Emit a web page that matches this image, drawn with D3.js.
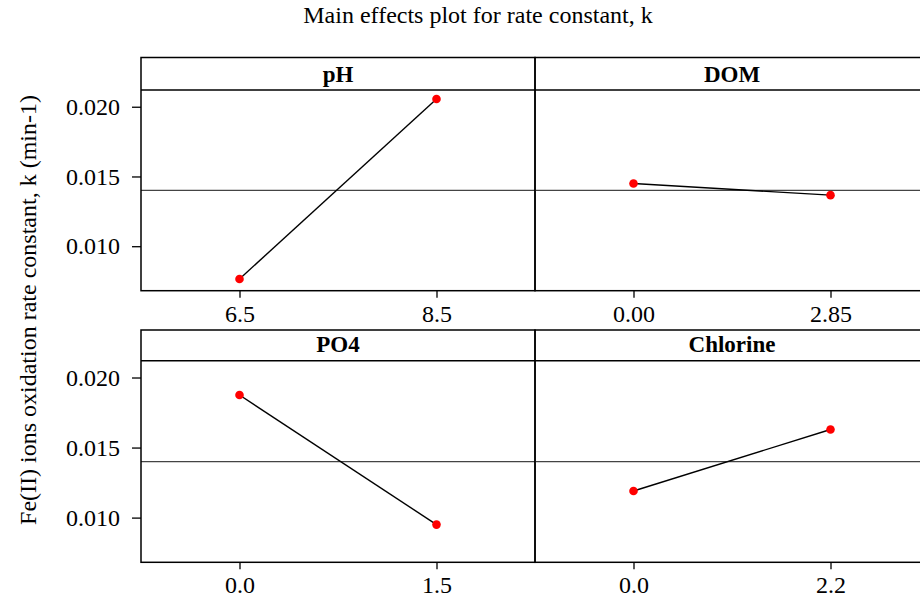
<!DOCTYPE html>
<html>
<head>
<meta charset="utf-8">
<script src="https://cdn.jsdelivr.net/npm/d3@7"></script>
<style>
  body { margin: 0; background: #fff; }
  svg { display: block; font-family: "Liberation Serif", "Times New Roman", serif; }
</style>
</head>
<body>
<div id="visualization"></div>
<script>

// data
let factors = ['pH', 'DOM', 'PO4', 'Chlorine'];
let levels = [['6.5', '8.5'], ['0.00', '2.85'], ['0.0', '1.5'], ['0.0', '2.2']];
let means = [[0.00765, 0.02055], [0.0145, 0.01366], [0.01875, 0.0095], [0.0119, 0.01629]];
let grandMean = 0.0140;
let yTicks = [0.010, 0.015, 0.020];

var width = 920, height = 600;

var svg = d3.select('#visualization').append('svg')
  .attr('width', width)
  .attr('height', height);

// title
svg.append('text')
  .attr('x', 478)
  .attr('y', 23)
  .attr('text-anchor', 'middle')
  .style('font-size', '24px')
  .text('Main effects plot for rate constant, k');

// y axis label
svg.append('text')
  .attr('transform', 'translate(36,310) rotate(-90)')
  .attr('text-anchor', 'middle')
  .style('font-size', '24px')
  .text('Fe(II) ions oxidation rate constant, k (min-1)');

// panel layout
var left = 141, panelW = 394;
var rows = [
  { top: 57.5, strip: 90, bottom: 290.7 },
  { top: 330, strip: 360.7, bottom: 562.3 }
];

factors.forEach(function (name, i) {
  let row = rows[Math.floor(i / 2)];
  let col = i % 2;
  let x0 = left + col * panelW;

  let x = d3.scalePoint()
    .domain(levels[i])
    .range([x0, x0 + panelW])
    .padding(0.5);

  let y = d3.scaleLinear()
    .domain([0.00681, 0.0212])
    .range([row.bottom, row.strip]);

  let g = svg.append('g');

  // grand mean reference line
  g.append('line')
    .attr('x1', x0).attr('x2', x0 + panelW)
    .attr('y1', y(grandMean)).attr('y2', y(grandMean))
    .attr('stroke', '#444')
    .attr('stroke-width', 1.3);

  // mean line
  let pts = levels[i].map(function (lv, j) { return [lv, means[i][j]]; });
  g.append('path')
    .datum(pts)
    .attr('fill', 'none')
    .attr('stroke', '#000')
    .attr('stroke-width', 1.4)
    .attr('d', d3.line()
      .x(function (d) { return x(d[0]); })
      .y(function (d) { return y(d[1]); }));

  g.selectAll('circle')
    .data(pts)
    .enter().append('circle')
    .attr('cx', function (d) { return x(d[0]); })
    .attr('cy', function (d) { return y(d[1]); })
    .attr('r', 4.3)
    .attr('fill', '#ff0000');

  // x axis
  let xAxis = g.append('g')
    .attr('transform', 'translate(0,' + row.bottom + ')')
    .call(d3.axisBottom(x).tickSize(7).tickSizeOuter(0).tickPadding(7));
  xAxis.select('.domain').remove();
  xAxis.selectAll('line').attr('stroke-width', 1.3);
  xAxis.selectAll('text')
    .attr('fill', '#000')
    .style('font-size', '24px')
    .style('font-family', '"Liberation Serif", serif');

  // y axis on the left column only
  if (col === 0) {
    let yAxis = g.append('g')
      .attr('transform', 'translate(' + x0 + ',0)')
      .call(d3.axisLeft(y).tickValues(yTicks).tickFormat(d3.format('.3f'))
        .tickSize(9).tickSizeOuter(0).tickPadding(12));
    yAxis.select('.domain').remove();
    yAxis.selectAll('line').attr('stroke-width', 1.3);
    yAxis.selectAll('text')
      .attr('fill', '#000')
      .style('font-size', '24px')
      .style('font-family', '"Liberation Serif", serif');
  }

  // panel frame and strip
  g.append('rect')
    .attr('x', x0).attr('y', row.top)
    .attr('width', panelW).attr('height', row.bottom - row.top)
    .attr('fill', 'none')
    .attr('stroke', '#000')
    .attr('stroke-width', 1.5);

  g.append('line')
    .attr('x1', x0).attr('x2', x0 + panelW)
    .attr('y1', row.strip).attr('y2', row.strip)
    .attr('stroke', '#000')
    .attr('stroke-width', 1.5);

  g.append('text')
    .attr('x', x0 + panelW / 2)
    .attr('y', row.strip - 8.5)
    .attr('text-anchor', 'middle')
    .style('font-size', '23px')
    .style('font-weight', 'bold')
    .text(name);
});

</script>
</body>
</html>
